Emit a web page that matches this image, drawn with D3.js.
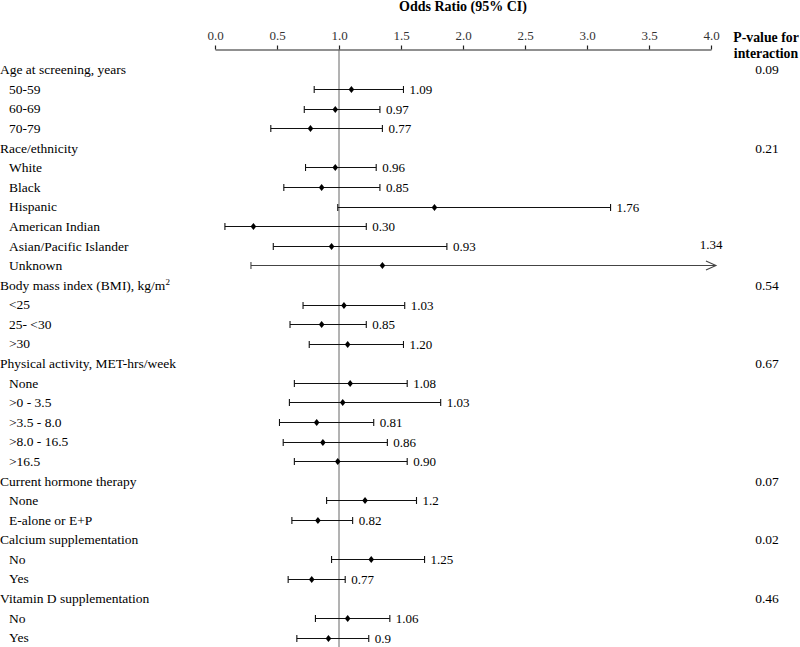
<!DOCTYPE html>
<html>
<head>
<meta charset="utf-8">
<script src="https://cdn.jsdelivr.net/npm/d3@7"></script>
<style>
  html, body { margin: 0; padding: 0; background: #fff; }
  svg { display: block; }
</style>
</head>
<body>
<svg id="chart" width="800" height="647" font-family="Liberation Serif, Times New Roman, Times, serif"></svg>
<script>
// ---------- data ----------
const groupNames = [
  "Age at screening, years",
  "Race/ethnicity",
  "Body mass index (BMI), kg/m",
  "Physical activity, MET-hrs/week",
  "Current hormone therapy",
  "Calcium supplementation",
  "Vitamin D supplementation"
];
const groupSuperscripts = ["", "", "2", "", "", "", ""];
const pValues = ["0.09", "0.21", "0.54", "0.67", "0.07", "0.02", "0.46"];
const subgroupLabels = [
  ["50-59", "60-69", "70-79"],
  ["White", "Black", "Hispanic", "American Indian", "Asian/Pacific Islander", "Unknown"],
  ["<25", "25- <30", ">30"],
  ["None", ">0 - 3.5", ">3.5 - 8.0", ">8.0 - 16.5", ">16.5"],
  ["None", "E-alone or E+P"],
  ["No", "Yes"],
  ["No", "Yes"]
];
const estimates = [
  [1.10, 0.97, 0.77],
  [0.97, 0.86, 1.77, 0.31, 0.94, 1.35],
  [1.04, 0.86, 1.07],
  [1.09, 1.03, 0.82, 0.87, 0.99],
  [1.21, 0.83],
  [1.26, 0.78],
  [1.07, 0.915]
];
const lowerCI = [
  [0.80, 0.72, 0.45],
  [0.73, 0.555, 0.99, 0.08, 0.47, 0.29],
  [0.71, 0.605, 0.76],
  [0.64, 0.60, 0.52, 0.55, 0.64],
  [0.90, 0.62],
  [0.94, 0.59],
  [0.81, 0.66]
];
const upperCI = [
  [1.52, 1.33, 1.35],
  [1.30, 1.33, 3.19, 1.22, 1.87, 4.04],
  [1.53, 1.22, 1.52],
  [1.55, 1.82, 1.28, 1.39, 1.55],
  [1.625, 1.11],
  [1.69, 1.05],
  [1.41, 1.24]
];
const valueLabels = [
  ["1.09", "0.97", "0.77"],
  ["0.96", "0.85", "1.76", "0.30", "0.93", "1.34"],
  ["1.03", "0.85", "1.20"],
  ["1.08", "1.03", "0.81", "0.86", "0.90"],
  ["1.2", "0.82"],
  ["1.25", "0.77"],
  ["1.06", "0.9"]
];
// rows whose CI runs past the axis (drawn with an arrow)
const truncated = [
  [false, false, false],
  [false, false, false, false, false, true],
  [false, false, false],
  [false, false, false, false, false],
  [false, false],
  [false, false],
  [false, false]
];
const tickValues = [0.0, 0.5, 1.0, 1.5, 2.0, 2.5, 3.0, 3.5, 4.0];
const refValue = 1.0;

// ---------- build rows ----------
const rows = [];
groupNames.forEach((g, gi) => {
  rows.push({ type: "header", label: g, sup: groupSuperscripts[gi], p: pValues[gi] });
  subgroupLabels[gi].forEach((s, si) => {
    rows.push({
      type: "sub", label: s,
      est: estimates[gi][si], lo: lowerCI[gi][si], hi: upperCI[gi][si],
      vlabel: valueLabels[gi][si], trunc: truncated[gi][si]
    });
  });
});

// ---------- scales ----------
const FONT = "Liberation Serif";
const svg = d3.select("#chart");
const x = d3.scaleLinear().domain([0, 4]).range([215, 711]);
const y = d3.scaleLinear().domain([0, rows.length - 1]).range([69.5, 637.5]);
const axisY = 49.5;

function txt(sel, size) {
  return sel.attr("font-family", FONT).attr("font-size", size || 13.5).attr("fill", "#000");
}

// title
txt(svg.append("text"), 14)
  .attr("x", x(2)).attr("y", 11)
  .attr("text-anchor", "middle")
  .attr("font-weight", "bold")
  .text("Odds Ratio (95% CI)");

// axis
const axis = d3.axisTop(x)
  .tickValues(tickValues)
  .tickFormat(d3.format(".1f"))
  .tickSizeInner(4).tickSizeOuter(0).tickPadding(6);
const gAxis = svg.append("g").attr("transform", `translate(0,${axisY})`).call(axis);
gAxis.attr("font-family", FONT).attr("font-size", 13);
gAxis.select(".domain").attr("stroke", "#222").attr("stroke-width", 1.2);
gAxis.selectAll(".tick line").attr("stroke", "#222").attr("stroke-width", 1.2);
gAxis.selectAll(".tick text").attr("fill", "#333");

// P-value header
const ph = txt(svg.append("text"), 13.8).attr("text-anchor", "middle").attr("font-weight", "bold");
ph.append("tspan").attr("x", 766).attr("y", 42).text("P-value for");
ph.append("tspan").attr("x", 766).attr("y", 58).text("interaction");

// reference line
svg.append("line")
  .attr("x1", x(refValue)).attr("x2", x(refValue))
  .attr("y1", axisY).attr("y2", 647)
  .attr("stroke", "#666").attr("stroke-width", 1);

// row labels
rows.forEach((r, i) => {
  const t = txt(svg.append("text"))
    .attr("x", r.type === "header" ? 0 : 9)
    .attr("y", y(i)).attr("dy", "0.35em")
    .text(r.label);
  if (r.sup) {
    t.append("tspan").attr("dy", "-0.55em").attr("font-size", 9).text(r.sup);
  }
  if (r.type === "header") {
    txt(svg.append("text"))
      .attr("x", 767).attr("y", y(i)).attr("dy", "0.35em")
      .attr("text-anchor", "middle")
      .text(r.p);
  }
});

// CIs
const subs = rows.map((r, i) => Object.assign({ i }, r)).filter(r => r.type === "sub");
const g = svg.append("g");
subs.forEach(r => {
  const yy = Math.round(y(r.i)) + 0.5;
  const x1 = x(r.lo), x2 = x(r.hi);
  const col = r.trunc ? "#444" : "#111";
  g.append("line").attr("x1", x1).attr("x2", x2).attr("y1", yy).attr("y2", yy)
    .attr("stroke", col).attr("stroke-width", 1.1);
  g.append("line").attr("x1", x1).attr("x2", x1).attr("y1", yy - 3.5).attr("y2", yy + 3.5)
    .attr("stroke", col).attr("stroke-width", 1.1);
  if (r.trunc) {
    g.append("path")
      .attr("d", `M${x2 - 10},${yy - 4.5} L${x2},${yy} L${x2 - 10},${yy + 4.5}`)
      .attr("fill", "none").attr("stroke", col).attr("stroke-width", 1.1);
    txt(svg.append("text"), 13)
      .attr("x", x(4)).attr("y", yy - 21).attr("dy", "0.35em")
      .attr("text-anchor", "middle")
      .text(r.vlabel);
  } else {
    g.append("line").attr("x1", x2).attr("x2", x2).attr("y1", yy - 3.5).attr("y2", yy + 3.5)
      .attr("stroke", col).attr("stroke-width", 1.1);
    txt(svg.append("text"), 13)
      .attr("x", x2 + 6).attr("y", yy).attr("dy", "0.35em")
      .text(r.vlabel);
  }
  const cx = x(r.est);
  g.append("path")
    .attr("d", `M${cx},${yy - 3.5} L${cx + 2.8},${yy} L${cx},${yy + 3.5} L${cx - 2.8},${yy} Z`)
    .attr("fill", "#000");
});
</script>
</body>
</html>
